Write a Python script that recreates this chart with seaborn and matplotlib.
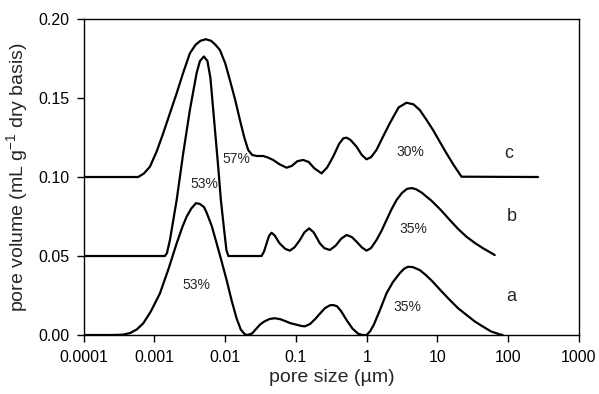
import numpy as np
import pandas as pd
import matplotlib
matplotlib.use("Agg")
import matplotlib.pyplot as plt
import seaborn as sns

# ---- data (log10 of pore size in µm, pore volume in mL/g) ----
a_log_size = [-4.0, -3.6, -3.45, -3.346, -3.25, -3.158, -3.05, -2.922, -2.80, -2.686,
              -2.60, -2.545, -2.48, -2.414, -2.36, -2.30, -2.263, -2.19, -2.121,
              -2.05, -1.980, -1.91, -1.839, -1.78, -1.722, -1.68, -1.62, -1.56,
              -1.51, -1.45, -1.37, -1.298, -1.22, -1.15, -1.086, -1.0, -0.92,
              -0.874, -0.80, -0.72, -0.662, -0.59, -0.52, -0.475, -0.42, -0.36,
              -0.285, -0.20, -0.12, -0.06, 0.0, 0.05, 0.10, 0.18, 0.28, 0.37,
              0.467, 0.53, 0.585, 0.65, 0.750, 0.84, 0.934, 1.05, 1.174, 1.29,
              1.41, 1.53, 1.644, 1.76, 1.880, 1.922]
a_volume = [0.0, 0.0, 0.0002, 0.0012, 0.0035, 0.0074, 0.0150, 0.0264, 0.0420, 0.0580,
            0.0690, 0.0749, 0.0800, 0.0834, 0.0830, 0.0810, 0.0775, 0.0690, 0.0580,
            0.0465, 0.0348, 0.0220, 0.0105, 0.0035, 0.0004, 0.0, 0.0010, 0.0040,
            0.0065, 0.0085, 0.0102, 0.0106, 0.0100, 0.0088, 0.0076, 0.0066, 0.0057,
            0.0055, 0.0070, 0.0105, 0.0135, 0.0170, 0.0188, 0.0190, 0.0182, 0.0150,
            0.0095, 0.0040, 0.0008, 0.0, 0.0, 0.0025, 0.0065, 0.0150, 0.0264, 0.0335,
            0.0391, 0.0420, 0.0432, 0.0430, 0.0411, 0.0378, 0.0337, 0.0280, 0.0222, 0.0170,
            0.0127, 0.0085, 0.0053, 0.0022, 0.0004, 0.0]

b_log_size = [-4.0, -2.852, -2.823, -2.781, -2.686, -2.597, -2.499, -2.404, -2.357,
              -2.301, -2.251, -2.209, -2.169, -2.099, -2.061, -2.018, -1.983, -1.955,
              -1.486, -1.45, -1.415, -1.38, -1.345, -1.30, -1.26, -1.227, -1.15,
              -1.086, -1.02, -0.945, -0.88, -0.814, -0.75, -0.662, -0.60, -0.521,
              -0.44, -0.36, -0.285, -0.21, -0.144, -0.07, -0.003, 0.06, 0.138, 0.21,
              0.280, 0.35, 0.421, 0.50, 0.57, 0.637, 0.70, 0.78, 0.86, 0.915, 1.05,
              1.174, 1.29, 1.410, 1.53, 1.644, 1.73, 1.809]
b_volume = [0.05, 0.05, 0.0519, 0.0601, 0.0854, 0.1139, 0.1424, 0.1658, 0.1734,
            0.1763, 0.1734, 0.1627, 0.1424, 0.1065, 0.0854, 0.0677, 0.0538, 0.05,
            0.05, 0.0530, 0.0580, 0.0628, 0.0647, 0.0630, 0.0600, 0.0578, 0.0545,
            0.0534, 0.0555, 0.0601, 0.0650, 0.0675, 0.0650, 0.0580, 0.0550, 0.0538,
            0.0565, 0.0610, 0.0633, 0.0620, 0.0591, 0.0555, 0.0534, 0.0550, 0.0601, 0.0660,
            0.0728, 0.0795, 0.0854, 0.0900, 0.0925, 0.0930, 0.0922, 0.0900, 0.0870, 0.0850, 0.0790,
            0.0728, 0.0672, 0.0622, 0.0582, 0.0549, 0.0527, 0.0506]

c_log_size = [-4.0, -3.229, -3.15, -3.064, -2.97, -2.876, -2.78, -2.686, -2.59, -2.499,
              -2.42, -2.35, -2.273, -2.20, -2.14, -2.075, -2.00, -1.934, -1.86, -1.792,
              -1.73, -1.675, -1.62, -1.557, -1.463, -1.40, -1.322, -1.23, -1.133, -1.06,
              -0.98, -0.898, -0.82, -0.74, -0.638, -0.56, -0.475, -0.39, -0.33, -0.285,
              -0.23, -0.144, -0.07, -0.003, 0.06, 0.138, 0.23, 0.326, 0.45, 0.562, 0.66,
              0.750, 0.84, 0.938, 1.03, 1.127, 1.23, 1.339, 2.421]
c_volume = [0.10, 0.10, 0.1022, 0.1065, 0.1160, 0.1277, 0.1405, 0.1530, 0.1665, 0.1783,
            0.1836, 0.1862, 0.1872, 0.1862, 0.1838, 0.1804, 0.1720, 0.1614, 0.1490, 0.1361,
            0.1250, 0.1171, 0.1140, 0.1133, 0.1133, 0.1124, 0.1108, 0.1080, 0.1059, 0.1070,
            0.1100, 0.1108, 0.1095, 0.1055, 0.1023, 0.1060, 0.1128, 0.1210, 0.1245, 0.1249,
            0.1235, 0.1192, 0.1140, 0.1112, 0.1125, 0.1171, 0.1255, 0.1340, 0.1440, 0.1470, 0.1460,
            0.1424, 0.1365, 0.1297, 0.1225, 0.1150, 0.1075, 0.1002, 0.10]

pct_labels = ["53%", "53%", "57%", "35%", "35%", "30%"]
pct_x = [0.00394, 0.0050, 0.01416, 3.77, 4.52, 4.20]
pct_y = [0.0316, 0.0954, 0.1112, 0.0175, 0.0669, 0.116]

curve_names = ["a", "b", "c"]
name_x = [112, 111, 101.7]
name_y = [0.0242, 0.0749, 0.1146]

x_ticks = [0.0001, 0.001, 0.01, 0.1, 1, 10, 100, 1000]
x_tick_labels = ["0.0001", "0.001", "0.01", "0.1", "1", "10", "100", "1000"]
y_ticks = [0.00, 0.05, 0.10, 0.15, 0.20]
y_tick_labels = ["0.00", "0.05", "0.10", "0.15", "0.20"]

# ---- plotting ----
sns.set_style("ticks")
plt.rcParams["font.family"] = ["Liberation Sans", "DejaVu Sans"]
plt.rcParams["mathtext.fontset"] = "custom"
plt.rcParams["mathtext.rm"] = "Liberation Sans"
plt.rcParams["mathtext.it"] = "Liberation Sans:italic"
plt.rcParams["mathtext.bf"] = "Liberation Sans:bold"

fig = plt.figure(figsize=(5.99, 3.94), dpi=100)
ax = fig.add_axes([0.1397, 0.1497, 0.9666 - 0.1397, 0.9518 - 0.1497])

for ls, vol in [(a_log_size, a_volume), (b_log_size, b_volume), (c_log_size, c_volume)]:
    df = pd.DataFrame({"size": 10 ** np.array(ls, dtype=float), "vol": vol})
    sns.lineplot(data=df, x="size", y="vol", color="black", linewidth=1.6,
                 ax=ax, sort=True, estimator=None)

ax.set_xscale("log")
ax.set_xlim(0.0001, 1000)
ax.set_ylim(0, 0.20)
ax.set_xticks(x_ticks)
ax.set_xticklabels(x_tick_labels)
ax.set_yticks(y_ticks)
ax.set_yticklabels(y_tick_labels)
ax.minorticks_off()
ax.tick_params(axis="both", direction="out", length=5, width=1, labelsize=11.5,
               colors="black", top=False, right=False)
ax.tick_params(axis="x", pad=6)
ax.tick_params(axis="y", pad=5)

for s in ax.spines.values():
    s.set_visible(True)
    s.set_linewidth(1.0)
    s.set_color("black")

ax.set_xlabel("pore size (µm)", fontsize=14, labelpad=3)
ax.set_ylabel(r"pore volume (mL g$^{\mathrm{-1}}$ dry basis)", fontsize=14, labelpad=6)

for t, xx, yy in zip(pct_labels, pct_x, pct_y):
    ax.text(xx, yy, t, fontsize=10, ha="center", va="center")
for t, xx, yy in zip(curve_names, name_x, name_y):
    ax.text(xx, yy, t, fontsize=13, ha="center", va="center")

fig.savefig("out.png", dpi=100)
